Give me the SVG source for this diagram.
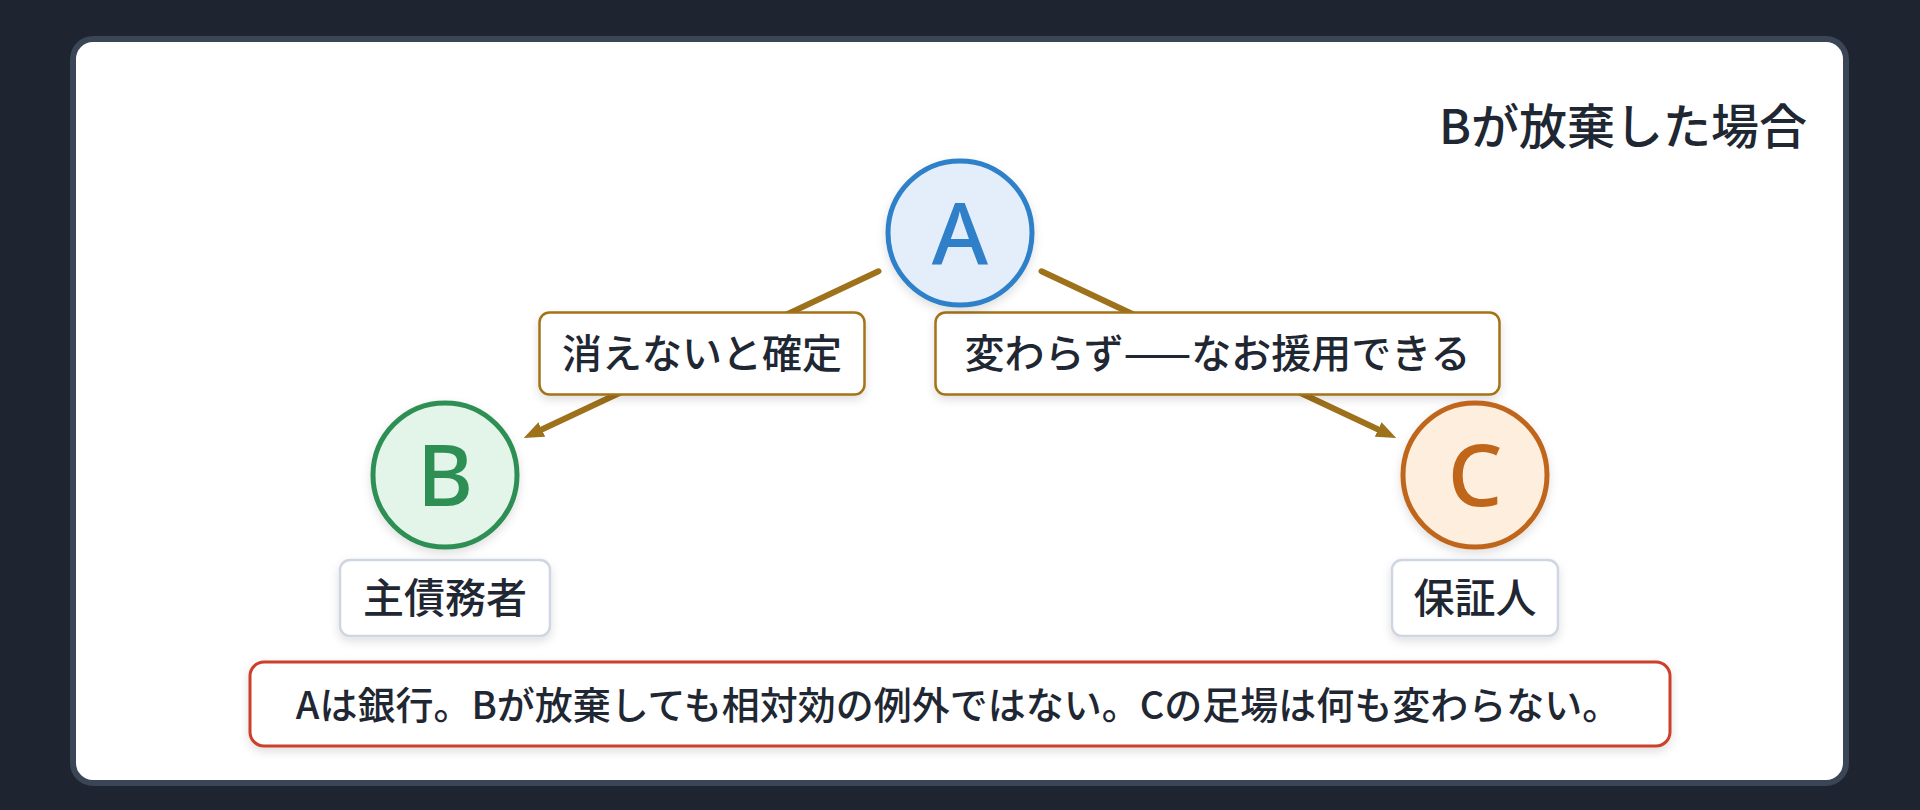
<svg xmlns="http://www.w3.org/2000/svg" width="1920" height="810" viewBox="0 0 1920 810">
  <defs>
    <style>
      .t { font-family: "Noto Sans CJK JP", "Noto Sans", sans-serif; fill: #1f2733; }
      .title { font-size: 48px; font-weight: 500; }
      .elabel rect { fill: #ffffff; stroke: #a37319; stroke-width: 2.5; }
      .elabel text { font-size: 40px; font-weight: 500; }
      .nlabel rect { fill: #ffffff; stroke: #cdd6e2; stroke-width: 2.5; }
      .nlabel text { font-size: 41px; font-weight: 500; }
      .letter { font-family: "Noto Sans", "Noto Sans CJK JP", sans-serif; font-size: 86px; font-weight: 500; }
      .edge { stroke: #9e711b; stroke-width: 6; stroke-linecap: round; fill: none; }
    </style>
    <filter id="sh" x="-20%" y="-20%" width="140%" height="150%">
      <feDropShadow dx="0" dy="4" stdDeviation="5" flood-color="#000000" flood-opacity="0.13"/>
    </filter>
    <marker id="arr" viewBox="0 0 20 16" refX="6" refY="8" markerWidth="20" markerHeight="16" markerUnits="userSpaceOnUse" orient="auto">
      <path d="M0,0 L20,8 L0,16 z" fill="#9e711b"/>
    </marker>
  </defs>

  <rect x="0" y="0" width="1920" height="810" fill="#1e2430"/>
  <rect x="73" y="39" width="1773" height="744" rx="20" fill="#ffffff" stroke="#3a4556" stroke-width="6"/>

  <text class="t title" x="1807" y="144" text-anchor="end">Bが放棄した場合</text>

  <g id="connectors">
    <line class="edge" x1="878.5" y1="271.3" x2="536.4" y2="432.0" marker-end="url(#arr)"/>
    <line class="edge" x1="1041.5" y1="271.3" x2="1383.6" y2="432.0" marker-end="url(#arr)"/>
  </g>

  <g id="edge-label-ab" class="elabel">
    <rect x="539.5" y="312.5" width="325" height="82" rx="10" filter="url(#sh)"/>
    <text class="t" x="702" y="368" text-anchor="middle">消えないと確定</text>
  </g>
  <g id="edge-label-ac" class="elabel">
    <rect x="935.5" y="312.5" width="564" height="82" rx="10" filter="url(#sh)"/>
    <text class="t" x="1217.5" y="368" text-anchor="middle">変わらず——なお援用できる</text>
  </g>

  <g id="node-a">
    <circle cx="960" cy="233" r="72" fill="#e3eefa" stroke="#2f80c9" stroke-width="5" filter="url(#sh)"/>
    <text class="letter" x="960" y="265" text-anchor="middle" fill="#2f80c9">A</text>
  </g>

  <g id="node-b">
    <circle cx="445" cy="475" r="72" fill="#e3f5e8" stroke="#2e8f55" stroke-width="5" filter="url(#sh)"/>
    <text class="letter" x="445" y="506" text-anchor="middle" fill="#2e8f55">B</text>
    <g class="nlabel">
      <rect x="340" y="560" width="210" height="76" rx="10" filter="url(#sh)"/>
      <text class="t" x="445" y="613" text-anchor="middle">主債務者</text>
    </g>
  </g>

  <g id="node-c">
    <circle cx="1475" cy="475" r="72" fill="#fdeedd" stroke="#c0661b" stroke-width="5" filter="url(#sh)"/>
    <text class="letter" x="1475" y="506" text-anchor="middle" fill="#c0661b">C</text>
    <g class="nlabel">
      <rect x="1392" y="560" width="166" height="76" rx="10" filter="url(#sh)"/>
      <text class="t" x="1475" y="613" text-anchor="middle">保証人</text>
    </g>
  </g>

  <g id="note">
    <rect x="250" y="662" width="1420" height="84" rx="14" fill="#ffffff" stroke="#cc3f2b" stroke-width="3" filter="url(#sh)"/>
    <text class="t" x="958" y="719" text-anchor="middle" font-size="38" font-weight="500">Aは銀行。Bが放棄しても相対効の例外ではない。Cの足場は何も変わらない。</text>
  </g>
</svg>
